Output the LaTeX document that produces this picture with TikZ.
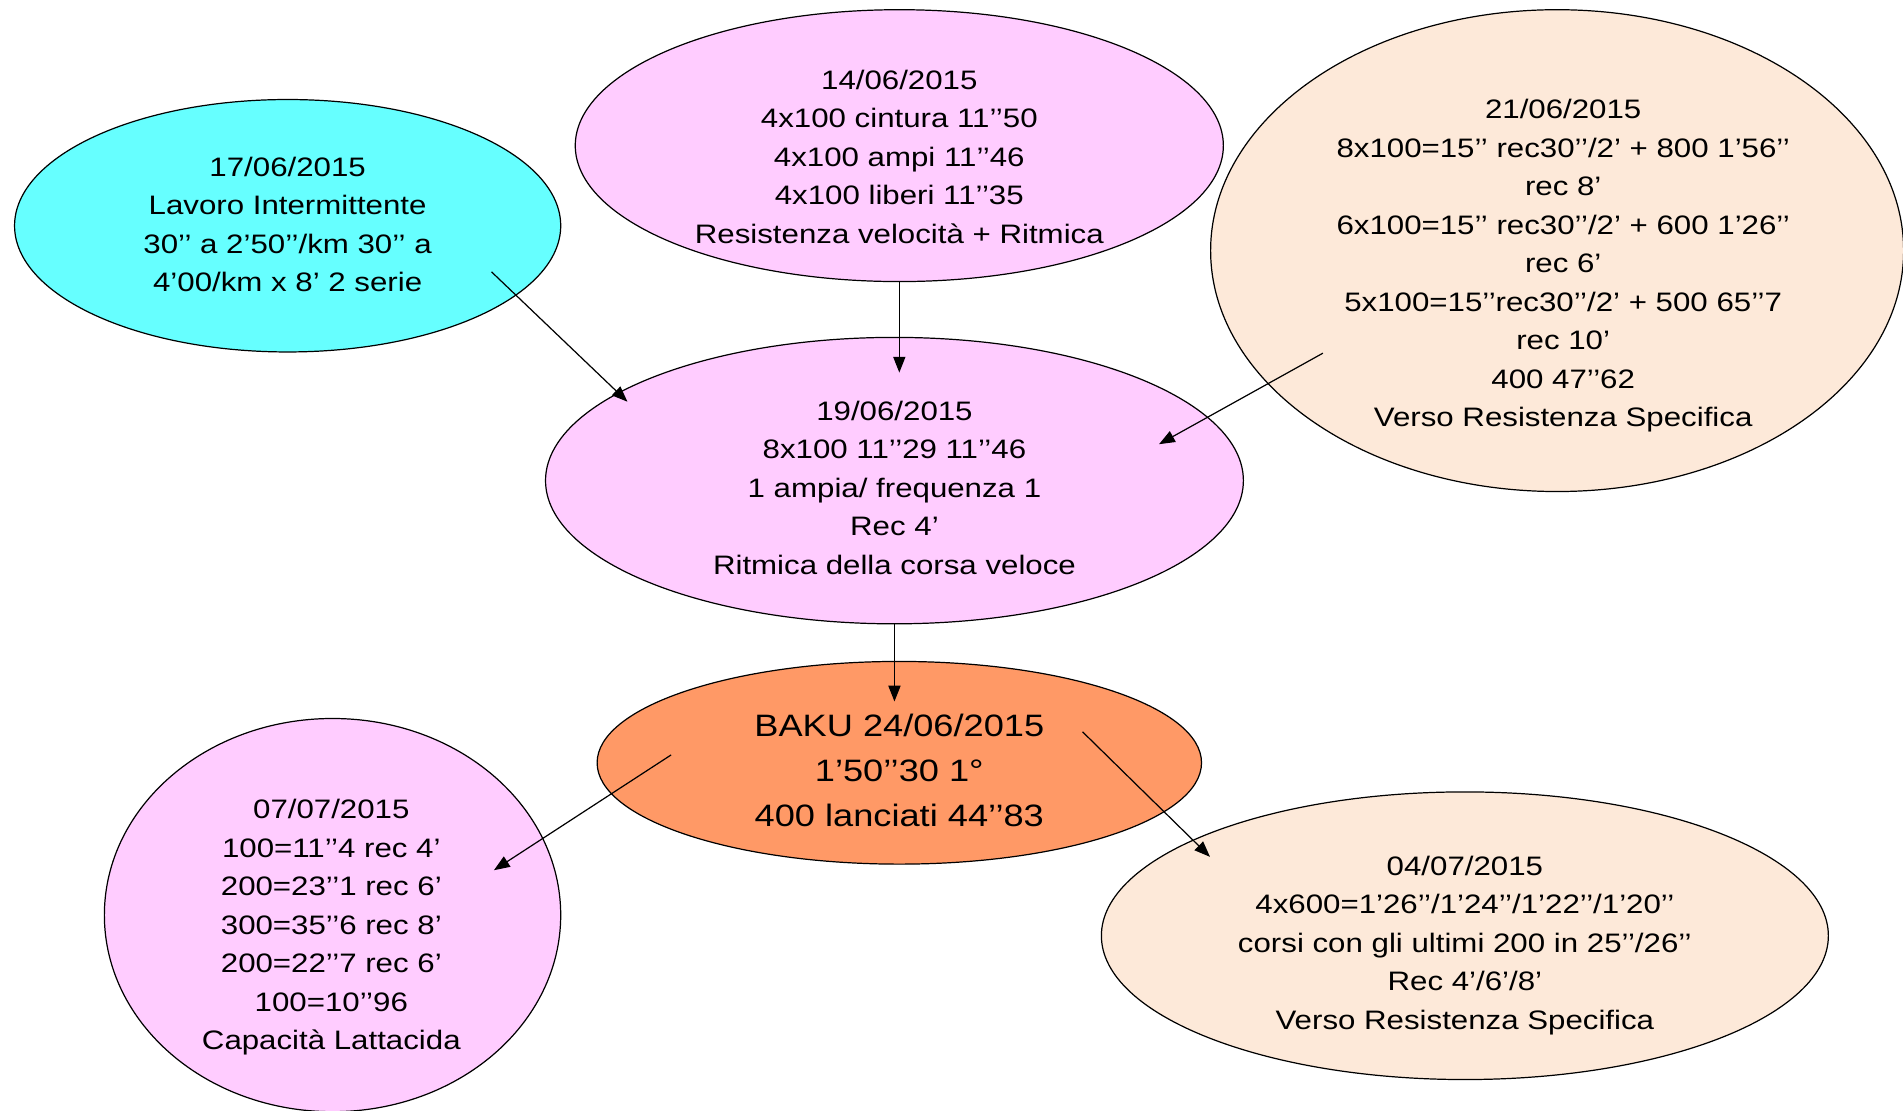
\documentclass[tikz,border=0pt]{standalone}
\usepackage{fontspec}
\setmainfont[FakeStretch=1.17]{Liberation Sans}
\usetikzlibrary{arrows.meta,shapes.geometric}
\definecolor{cyanF}{RGB}{102,255,255}
\definecolor{pinkF}{RGB}{255,204,255}
\definecolor{peachF}{RGB}{253,233,217}
\definecolor{orangeF}{RGB}{255,153,102}
\tikzset{
  ell/.style={ellipse, draw=black, line width=1pt, inner sep=0pt},
  txt/.style={align=center, inner sep=0pt, font=\fontsize{22}{31.7}\selectfont},
  bigtxt/.style={align=center, inner sep=0pt, font=\fontsize{25.5}{37}\selectfont},
  arr/.style={line width=1pt, -{Triangle[length=13pt,width=10pt]}}
}
\begin{document}
\begin{tikzpicture}[x=1pt,y=-1pt]
\useasboundingbox (0,0) rectangle (1568,915);
\fill[white] (0,0) rectangle (1568,915);
% ellipses
\node[ell, fill=cyanF, minimum width=450pt, minimum height=208pt] (e1) at (237,186) {};
\node[ell, fill=pinkF, minimum width=534pt, minimum height=224pt] (e2) at (741,120) {};
\node[ell, fill=peachF, minimum width=571pt, minimum height=397pt] (e3) at (1283,206.5) {};
\node[ell, fill=pinkF, minimum width=575pt, minimum height=236pt] (e4) at (737,396) {};
\node[ell, fill=orangeF, minimum width=498pt, minimum height=167pt] (e5) at (741,628.5) {};
\node[ell, fill=pinkF, minimum width=376pt, minimum height=324pt] (e6) at (274,754) {};
\node[ell, fill=peachF, minimum width=599pt, minimum height=237pt] (e7) at (1207,771) {};
% texts
\node[txt] (t1) at (237,185) {17/06/2015\\Lavoro Intermittente\\30’’ a 2’50’’/km 30’’ a\\4’00/km x 8’ 2 serie};
\node[txt] (t2) at (741,129) {14/06/2015\\4x100 cintura 11’’50\\4x100 ampi 11’’46\\4x100 liberi 11’’35\\Resistenza velocità + Ritmica};
\node[txt] (t3) at (1288,219) {21/06/2015\\8x100=15’’ rec30’’/2’ + 800 1’56’’\\rec 8’\\6x100=15’’ rec30’’/2’ + 600 1’26’’\\rec 6’\\5x100=15’’rec30’’/2’ + 500 65’’7\\rec 10’\\400 47’’62\\Verso Resistenza Specifica};
\node[txt] (t4) at (737,402) {19/06/2015\\8x100 11’’29 11’’46\\1 ampia/ frequenza 1\\Rec 4’\\Ritmica della corsa veloce};
\node[bigtxt] (t5) at (741,635) {BAKU 24/06/2015\\1’50’’30 1°\\400 lanciati 44’’83};
\node[txt] (t6) at (273,764) {07/07/2015\\100=11’’4 rec 4’\\200=23’’1 rec 6’\\300=35’’6 rec 8’\\200=22’’7 rec 6’\\100=10’’96\\Capacità Lattacida};
\node[txt] (t7) at (1207,779) {04/07/2015\\4x600=1’26’’/1’24’’/1’22’’/1’20’’\\corsi con gli ultimi 200 in 25’’/26’’\\Rec 4’/6’/8’\\Verso Resistenza Specifica};
% arrow end points
\coordinate (a1s) at (405,224); \coordinate (a1e) at (517,331);
\coordinate (a2s) at (741,232); \coordinate (a2e) at (741,307);
\coordinate (a3s) at (1090,291); \coordinate (a3e) at (955,366);
\coordinate (a4s) at (737,514); \coordinate (a4e) at (737,578);
\coordinate (a5s) at (553,622); \coordinate (a5e) at (407,717);
\coordinate (a6s) at (892,603); \coordinate (a6e) at (997,706);
\draw[arr] (a1s) -- (a1e);
\draw[arr] (a2s) -- (a2e);
\draw[arr] (a3s) -- (a3e);
\draw[arr] (a4s) -- (a4e);
\draw[arr] (a5s) -- (a5e);
\draw[arr] (a6s) -- (a6e);
\end{tikzpicture}
\end{document}
